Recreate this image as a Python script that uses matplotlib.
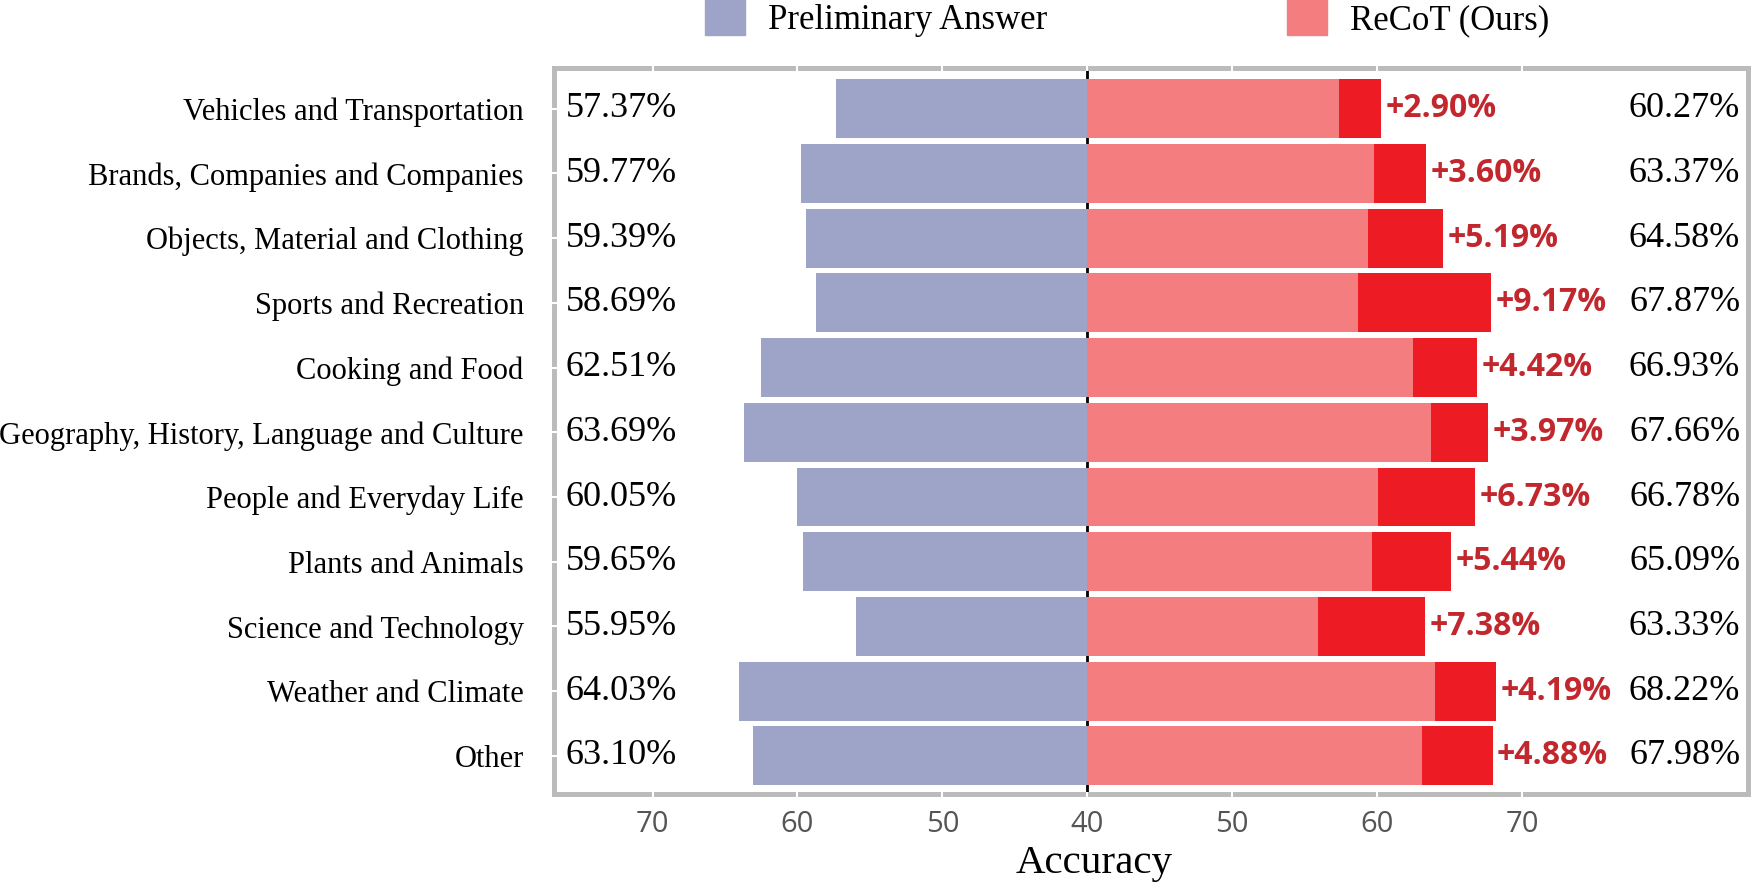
import matplotlib
matplotlib.use("Agg")
import matplotlib.pyplot as plt
from matplotlib.patches import Patch
import numpy as np

categories = [
    "Vehicles and Transportation",
    "Brands, Companies and Companies",
    "Objects, Material and Clothing",
    "Sports and Recreation",
    "Cooking and Food",
    "Geography, History, Language and Culture",
    "People and Everyday Life",
    "Plants and Animals",
    "Science and Technology",
    "Weather and Climate",
    "Other",
]
preliminary = [57.37, 59.77, 59.39, 58.69, 62.51, 63.69, 60.05, 59.65, 55.95, 64.03, 63.10]
recot = [60.27, 63.37, 64.58, 67.87, 66.93, 67.66, 66.78, 65.09, 63.33, 68.22, 67.98]
gains = [2.90, 3.60, 5.19, 9.17, 4.42, 3.97, 6.73, 5.44, 7.38, 4.19, 4.88]
tick_vals = [-30, -20, -10, 0, 10, 20, 30]
tick_labels = ["70", "60", "50", "40", "50", "60", "70"]
center = 40

C_PRE = "#9EA3C8"
C_LIGHT = "#F47E7F"
C_DARK = "#ED1C24"
C_GAIN = "#C1272D"
C_FRAME = "#BBBBBB"

SERIF = ["Liberation Serif", "DejaVu Serif"]
SANS = ["Open Sans", "DejaVu Sans"]

fig = plt.figure(figsize=(17.52, 8.84), dpi=100)
ax = fig.add_axes([554 / 1752, 1 - 794 / 884, (1748 - 554) / 1752, (794 - 68) / 884])

y = np.arange(len(categories))
pre = np.array(preliminary)
rec = np.array(recot)

ax.axvline(0, color="black", lw=2, zorder=0.5)
ax.barh(y, -(pre - center), height=0.91, color=C_PRE, zorder=1)
ax.barh(y, pre - center, height=0.91, color=C_LIGHT, zorder=1)
ax.barh(y, rec - pre, left=pre - center, height=0.91, color=C_DARK, zorder=1)

ax.set_xlim(-36.8, 45.6)
ax.set_ylim(len(categories) - 1 + 0.59, -0.63)

for i in range(len(categories)):
    ax.text(0.010, i, f"{preliminary[i]:.2f}%", transform=ax.get_yaxis_transform(),
            ha="left", va="center", fontsize=26, family=SERIF, color="black")
    ax.text(0.9935, i, f"{recot[i]:.2f}%", transform=ax.get_yaxis_transform(),
            ha="right", va="center", fontsize=26, family=SERIF, color="black")
    ax.text(rec[i] - center + 0.3, i, f"+{gains[i]:.2f}%", ha="left", va="center",
            fontsize=23, family=SANS, fontweight="bold", color=C_GAIN)

ax.set_yticks(y)
ax.set_yticklabels(categories, family=SERIF, fontsize=22)
ax.set_xticks(tick_vals)
ax.set_xticklabels(tick_labels, family=SANS, fontsize=21, color="#555555")

for s in ax.spines.values():
    s.set_color(C_FRAME)
    s.set_linewidth(3.6)
    s.set_zorder(2.4)
ax.set_axisbelow(False)
ax.tick_params(axis="both", direction="inout", color="white", width=1.5, length=3.6,
               top=True, right=False)
ax.tick_params(axis="x", pad=10)
ax.tick_params(axis="y", pad=20)

ax.set_xlabel("Accuracy", family=SERIF, fontsize=29.5, labelpad=4)
ax.xaxis.label.set_x(0.452)

handles = [Patch(color=C_PRE, label="Preliminary Answer"),
           Patch(color=C_LIGHT, label="ReCoT (Ours)")]
fig.legend(handles=handles, loc="upper left", bbox_to_anchor=(705 / 1752, 1.0),
           bbox_transform=fig.transFigure, ncol=2, frameon=False,
           prop={"family": SERIF, "size": 25}, handlelength=1.15, handleheight=1.18,
           handletextpad=0.66, columnspacing=6.9, borderpad=0, borderaxespad=0)

fig.savefig("out.png", dpi=100)
